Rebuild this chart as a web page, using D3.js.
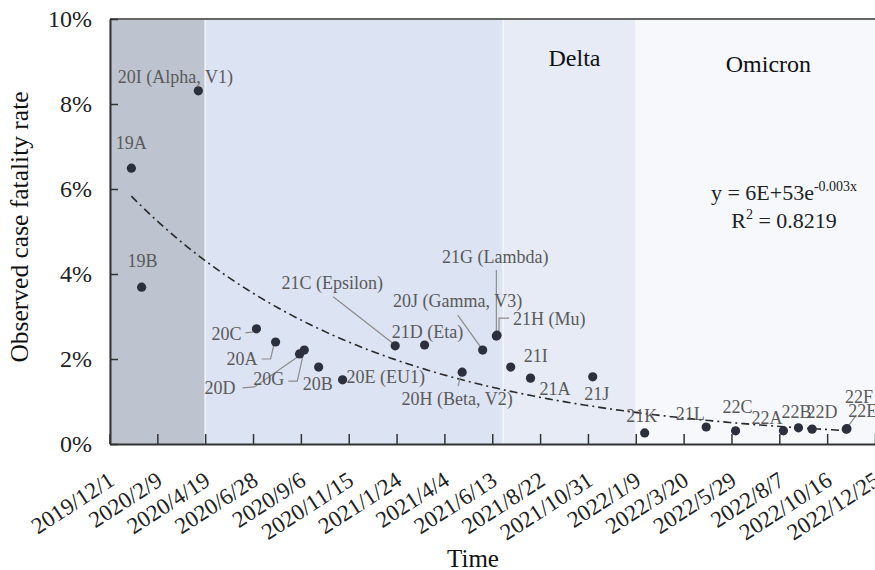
<!DOCTYPE html>
<html>
<head>
<meta charset="utf-8">
<title>CFR by clade</title>
<script src="https://cdn.jsdelivr.net/npm/d3@7/dist/d3.min.js"></script>
<style>
    body { margin: 0; background: #fff; }
    svg text { font-family: "Liberation Serif", "Times New Roman", serif; }
    .tick line { stroke: #333; stroke-width: 1.5px; }
    .domain { stroke: #333; stroke-width: 2px; }
    .ptlabel { font-size: 18px; fill: #5a5a5a; }
    .leader { stroke: #8c8c8c; stroke-width: 1.2px; fill: none; }
    .trend { stroke: #2a2a2a; stroke-width: 1.6px; fill: none; stroke-dasharray: 8 4 2 4; }
</style>
</head>
<body>
<svg id="chart" width="875" height="570"></svg>
<script>

// ---- data ----
var strains = ["19A", "19B", "20I (Alpha, V1)", "20C", "20A", "20D", "20G", "20B", "20E (EU1)",
               "21C (Epsilon)", "21D (Eta)", "20H (Beta, V2)", "20J (Gamma, V3)", "21G (Lambda)", "21H (Mu)",
               "21I", "21A", "21J", "21K", "21L", "22C", "22A", "22B", "22D", "22E", "22F"];
var dates = ["2020-01-02", "2020-01-17", "2020-04-09", "2020-07-03", "2020-07-31", "2020-09-04", "2020-09-11",
             "2020-10-02", "2020-11-06", "2021-01-22", "2021-03-06", "2021-04-30", "2021-05-30", "2021-06-19",
             "2021-06-20", "2021-07-10", "2021-08-08", "2021-11-07", "2022-01-22", "2022-04-22", "2022-06-04",
             "2022-08-13", "2022-09-04", "2022-09-24", "2022-11-13", "2022-11-14"];
var cfr = [6.49, 3.69, 8.31, 2.71, 2.40, 2.12, 2.21, 1.81, 1.51, 2.31, 2.33, 1.69, 2.21, 2.54, 2.56,
           1.81, 1.55, 1.58, 0.26, 0.40, 0.31, 0.31, 0.38, 0.35, 0.35, 0.36];

var tickDates = ["2019-12-01", "2020-02-09", "2020-04-19", "2020-06-28", "2020-09-06", "2020-11-15",
                 "2021-01-24", "2021-04-04", "2021-06-13", "2021-08-22", "2021-10-31", "2022-01-09",
                 "2022-03-20", "2022-05-29", "2022-08-07", "2022-10-16", "2022-12-25"];
var yTicks = [0, 2, 4, 6, 8, 10];

var eraStarts = ["2019-12-01", "2020-04-19", "2021-06-29", "2022-01-09"];
var eraNames = ["", "", "Delta", "Omicron"];

// ---- label placement (offset from the point, px) ----
var labelPos = {
    "19A": {a: "middle", dx: 0, dy: -19},
    "19B": {a: "middle", dx: 1, dy: -20},
    "20I (Alpha, V1)": {a: "middle", dx: -23, dy: -8},
    "20C": {a: "end", dx: -15, dy: 11, lead: [[-11, 4], [-3, 3]]},
    "20A": {a: "end", dx: -18, dy: 23, lead: [[-14, 17], [-5, 17], [-2, 4]]},
    "20D": {a: "end", dx: -64, dy: 40, lead: [[-57, 34], [-45, 33], [-2, 3]]},
    "20G": {a: "end", dx: -20, dy: 35, lead: [[-16, 31], [-7, 31], [-1, 4]]},
    "20B": {a: "middle", dx: -1, dy: 23},
    "20E (EU1)": {a: "start", dx: 4, dy: 3},
    "21C (Epsilon)": {a: "middle", dx: -63, dy: -57, lead: [[-62, -49], [-3, -3]]},
    "21D (Eta)": {a: "middle", dx: 3, dy: -7},
    "20H (Beta, V2)": {a: "middle", dx: -5, dy: 33, lead: [[-2, 5], [-4, 14]]},
    "20J (Gamma, V3)": {a: "middle", dx: -25, dy: -43, lead: [[-25, -35], [-2, -3]]},
    "21G (Lambda)": {a: "middle", dx: -1, dy: -73, lead: [[0, -66], [0, -4]]},
    "21H (Mu)": {a: "start", dx: 16, dy: -10, lead: [[12, -17], [2, -17], [2, -4]]},
    "21I": {a: "start", dx: 13, dy: -5},
    "21A": {a: "start", dx: 9, dy: 17},
    "21J": {a: "middle", dx: 4, dy: 23},
    "21K": {a: "middle", dx: -3, dy: -11},
    "21L": {a: "middle", dx: -16, dy: -7},
    "22C": {a: "middle", dx: 2, dy: -18},
    "22A": {a: "end", dx: -1, dy: -7},
    "22B": {a: "middle", dx: -2, dy: -10},
    "22D": {a: "middle", dx: 10, dy: -11},
    "22E": {a: "start", dx: 2, dy: -12, lead: [[2, -3], [10, -14]]},
    "22F": {a: "start", dx: -2, dy: -26}
};

var eraColors = ["#bdc3cf", "#dce3f2", "#e6ebf6", "#f6f8fc"];

var parse = d3.timeParse("%Y-%m-%d");
var fmt = function (d) { return d.getFullYear() + "/" + (d.getMonth() + 1) + "/" + d.getDate(); };

var plotLeft = 110, plotTop = 19, plotBottom = 444, plotRight = 875;

var svg = d3.select("#chart");

var xScale = d3.scaleTime()
    .domain([parse(tickDates[0]), parse(tickDates[tickDates.length - 1])])
    .range([plotLeft - 0.5, plotRight]);

var yScale = d3.scaleLinear()
    .domain([0, 10])
    .range([plotBottom, plotTop]);

var points = strains.map(function (s, i) {
    return {name: s, date: parse(dates[i]), v: cfr[i]};
});

//------------------- background eras -------------------
var eras = eraStarts.map(function (s, i) {
    return {
        x0: parse(s),
        x1: i < eraStarts.length - 1 ? parse(eraStarts[i + 1]) : xScale.domain()[1],
        name: eraNames[i], color: eraColors[i]
    };
});

svg.selectAll("rect.era")
    .data(eras)
    .enter()
    .append("rect")
    .attr("class", "era")
    .attr("x", function (d) { return xScale(d.x0); })
    .attr("y", plotTop)
    .attr("width", function (d) { return xScale(d.x1) - xScale(d.x0) + 2; })
    .attr("height", plotBottom - plotTop)
    .attr("fill", function (d) { return d.color; });

svg.selectAll("line.sep")
    .data(eras.slice(1))
    .enter()
    .append("line")
    .attr("x1", function (d) { return xScale(d.x0); })
    .attr("x2", function (d) { return xScale(d.x0); })
    .attr("y1", plotTop)
    .attr("y2", plotBottom)
    .attr("stroke", "#f4f6fb")
    .attr("stroke-width", 1.5);

svg.selectAll("text.era")
    .data(eras.filter(function (d) { return d.name; }))
    .enter()
    .append("text")
    .attr("class", "era")
    .attr("x", function (d) { return (xScale(d.x0) + Math.min(xScale(d.x1), plotRight)) / 2 + (d.name == "Delta" ? 5 : 13); })
    .attr("y", function (d) { return d.name == "Delta" ? 66 : 72; })
    .attr("text-anchor", "middle")
    .attr("font-size", "24px")
    .attr("fill", "#111")
    .text(function (d) { return d.name; });

//------------------- frame + axes -------------------
svg.append("line")
    .attr("x1", plotLeft).attr("x2", plotRight + 2)
    .attr("y1", plotTop).attr("y2", plotTop)
    .attr("stroke", "#666").attr("stroke-width", 2);

var xAxis = svg.append("g")
    .attr("transform", "translate(0," + plotBottom + ")")
    .call(d3.axisBottom(xScale)
        .tickValues(tickDates.map(parse))
        .tickFormat(fmt)
        .tickSizeInner(-10)
        .tickSizeOuter(0));

xAxis.attr("font-family", null).attr("font-size", 23);
xAxis.selectAll("text")
    .attr("text-anchor", "end")
    .attr("fill", "#222")
    .attr("dy", null)
    .attr("y", null)
    .attr("transform", "translate(6,40) rotate(-33)");

var yAxis = svg.append("g")
    .attr("transform", "translate(" + plotLeft + ",0)")
    .call(d3.axisLeft(yScale)
        .tickValues(yTicks)
        .tickFormat(function (d) { return d + "%"; })
        .tickSizeInner(-8)
        .tickSizeOuter(0)
        .tickPadding(18));

yAxis.attr("font-family", null).attr("font-size", 24);
yAxis.selectAll("text").attr("fill", "#222");

//------------------- trend line (exponential fit of the points) -------------------
var t0 = points[0].date;
var dayOf = function (d) { return (d - t0) / 864e5; };
var tx = points.map(function (p) { return dayOf(p.date); });
var ly = points.map(function (p) { return Math.log(p.v); });
var mx = d3.mean(tx), my = d3.mean(ly);
var sxy = d3.sum(tx, function (t, i) { return (t - mx) * (ly[i] - my); });
var sxx = d3.sum(tx, function (t) { return (t - mx) * (t - mx); });
var k = sxy / sxx;
var b = my - k * mx;

var lastDay = d3.max(tx);
var trendData = d3.range(0, lastDay + 1, 5).map(function (t) {
    return {date: new Date(+t0 + t * 864e5), v: Math.exp(b + k * t)};
});

svg.append("path")
    .datum(trendData)
    .attr("class", "trend")
    .attr("d", d3.line()
        .x(function (d) { return xScale(d.date); })
        .y(function (d) { return yScale(d.v); }));

//------------------- points, labels, leaders -------------------
var g = svg.append("g");

points.forEach(function (p) {
    var px = xScale(p.date), py = yScale(p.v);
    var lp = labelPos[p.name];
    if (lp.lead) {
        g.append("path")
            .attr("class", "leader")
            .attr("d", d3.line()(lp.lead.map(function (q) { return [px + q[0], py + q[1]]; })));
    }
});

g.selectAll("circle")
    .data(points)
    .enter()
    .append("circle")
    .attr("cx", function (d) { return xScale(d.date); })
    .attr("cy", function (d) { return yScale(d.v); })
    .attr("r", 4.6)
    .attr("fill", "#2c303c");

g.selectAll("text.ptlabel")
    .data(points)
    .enter()
    .append("text")
    .attr("class", "ptlabel")
    .attr("x", function (d) { return xScale(d.date) + labelPos[d.name].dx; })
    .attr("y", function (d) { return yScale(d.v) + labelPos[d.name].dy; })
    .attr("text-anchor", function (d) { return labelPos[d.name].a; })
    .text(function (d) { return d.name; });

//------------------- equation -------------------
var eq = svg.append("text")
    .attr("x", 784).attr("y", 200)
    .attr("text-anchor", "middle")
    .attr("font-size", "22px")
    .attr("fill", "#222");
eq.append("tspan").text("y = 6E+53e");
eq.append("tspan").attr("font-size", "14px").attr("dy", -9).text("-0.003x");

var r2 = svg.append("text")
    .attr("x", 784).attr("y", 228)
    .attr("text-anchor", "middle")
    .attr("font-size", "22px")
    .attr("fill", "#222");
r2.append("tspan").text("R");
r2.append("tspan").attr("font-size", "14px").attr("dy", -9).text("2");
r2.append("tspan").attr("dy", 9).text(" = 0.8219");

//------------------- axis titles -------------------
svg.append("text")
    .attr("transform", "translate(28,227) rotate(-90)")
    .attr("text-anchor", "middle")
    .attr("font-size", "25.5px")
    .attr("fill", "#111")
    .text("Observed case fatality rate");

svg.append("text")
    .attr("x", 473).attr("y", 567)
    .attr("text-anchor", "middle")
    .attr("font-size", "25px")
    .attr("fill", "#111")
    .text("Time");

</script>
</body>
</html>
